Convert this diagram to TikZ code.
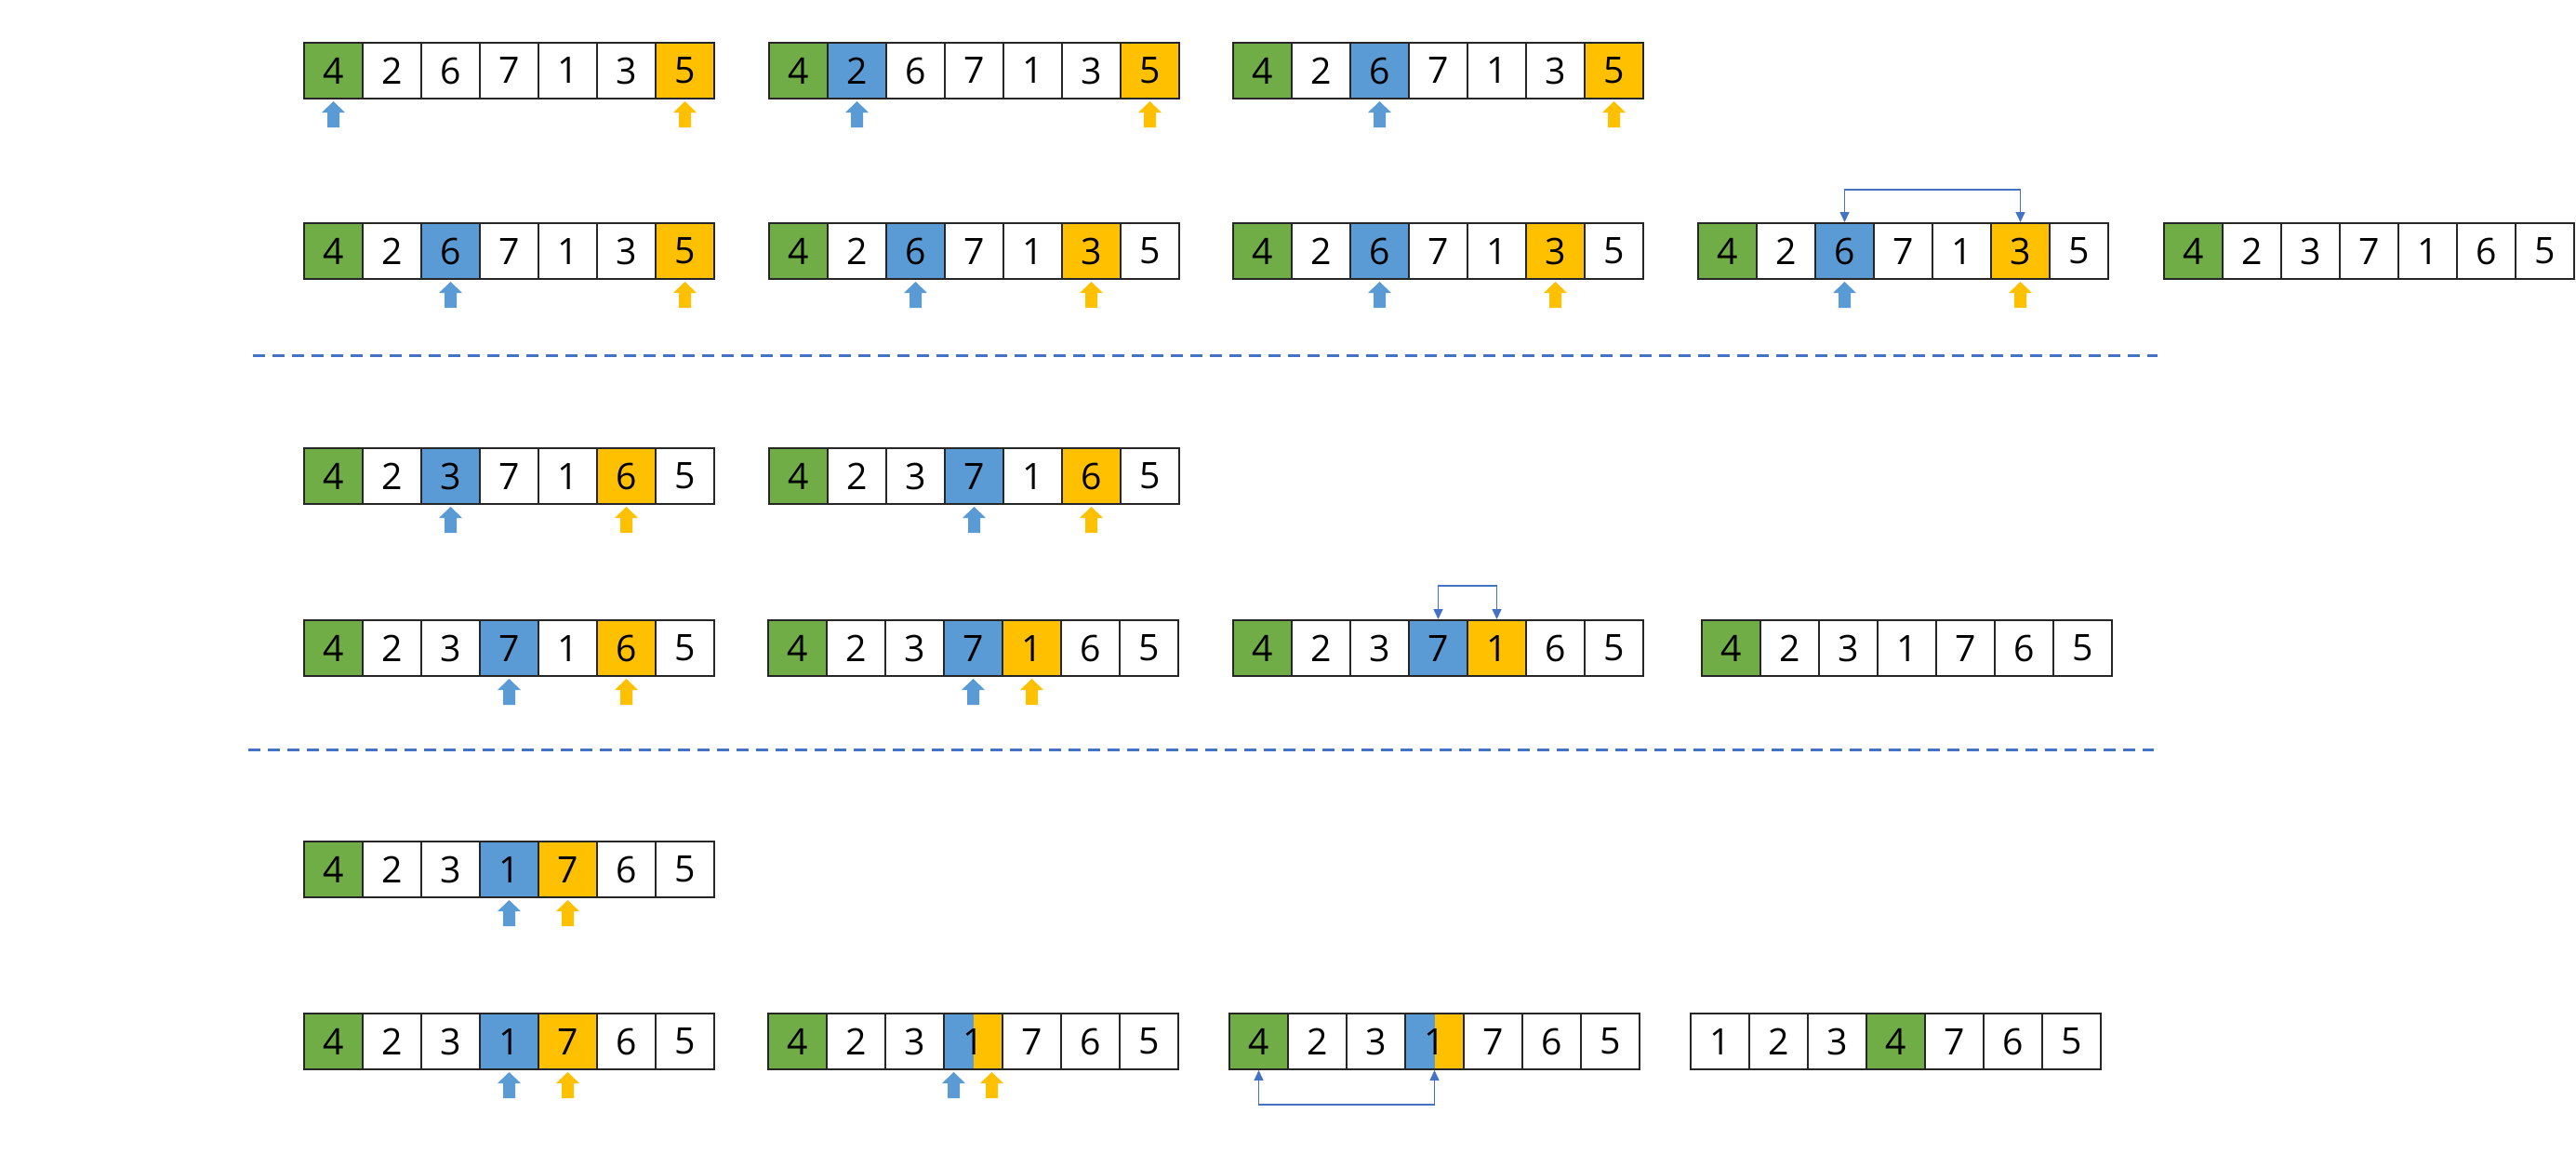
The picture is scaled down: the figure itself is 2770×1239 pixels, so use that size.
\documentclass[tikz,border=0pt]{standalone}
\usepackage{fontspec}
\setmainfont{Open Sans}
\usetikzlibrary{arrows.meta}
\definecolor{cgreen}{HTML}{70AD47}
\definecolor{cblue}{HTML}{5B9BD5}
\definecolor{corange}{HTML}{FFC000}
\definecolor{cline}{HTML}{4472C4}
\definecolor{cborder}{HTML}{262626}
\tikzset{
  cellbox/.style={draw=cborder, line width=1pt, minimum width=31.5pt, minimum height=30pt,
    inner sep=0pt, font=\fontsize{19.6}{23}\selectfont, text=black},
  fw/.style={fill=white},
  fg/.style={fill=cgreen},
  fb/.style={fill=cblue},
  fo/.style={fill=corange},
  fs/.style={fill=corange, path picture={\fill[cblue] (path picture bounding box.south west) rectangle (path picture bounding box.north);}},
  cellfill/.code={\edef\cellstyletmp{#1}\expandafter\pgfkeysalso\expandafter{\cellstyletmp}},
  conn/.style={draw=cline, line width=0.75pt, {Triangle[width=5pt,length=5.5pt]}-{Triangle[width=5pt,length=5.5pt]}},
  sep/.style={draw=cline, line width=1.5pt, dash pattern=on 6.5pt off 4pt}
}
\newcommand\cellrow[4]{%
  \foreach \v/\f [count=\i from 0] in {#4} {
    \node[cellbox, cellfill=\f] (#1-\i) at ({#2+31.5+63*\i},{#3+30}) {\v};
  }%
}
\newcommand\blockup[3]{%
  \fill[#1] ([xshift={(#3)*0.5pt}, yshift=-1pt]#2.south) -- ++(12.5,12) -- ++(-6,0) -- ++(0,16) -- ++(-13,0) -- ++(0,-16) -- ++(-6,0) -- cycle;%
}
\begin{document}
\begin{tikzpicture}[x=0.5pt, y=-0.5pt]
\useasboundingbox (0,0) rectangle (2770,1239);
% Row 1
\cellrow{a1}{327}{46}{4/fg,2/fw,6/fw,7/fw,1/fw,3/fw,5/fo}
\blockup{cblue}{a1-0}{0} \blockup{corange}{a1-6}{0}
\cellrow{a2}{827}{46}{4/fg,2/fb,6/fw,7/fw,1/fw,3/fw,5/fo}
\blockup{cblue}{a2-1}{0} \blockup{corange}{a2-6}{0}
\cellrow{a3}{1326}{46}{4/fg,2/fw,6/fb,7/fw,1/fw,3/fw,5/fo}
\blockup{cblue}{a3-2}{0} \blockup{corange}{a3-6}{0}
% Row 2
\cellrow{b1}{327}{240}{4/fg,2/fw,6/fb,7/fw,1/fw,3/fw,5/fo}
\blockup{cblue}{b1-2}{0} \blockup{corange}{b1-6}{0}
\cellrow{b2}{827}{240}{4/fg,2/fw,6/fb,7/fw,1/fw,3/fo,5/fw}
\blockup{cblue}{b2-2}{0} \blockup{corange}{b2-5}{0}
\cellrow{b3}{1326}{240}{4/fg,2/fw,6/fb,7/fw,1/fw,3/fo,5/fw}
\blockup{cblue}{b3-2}{0} \blockup{corange}{b3-5}{0}
\cellrow{b4}{1826}{240}{4/fg,2/fw,6/fb,7/fw,1/fw,3/fo,5/fw}
\blockup{cblue}{b4-2}{0} \blockup{corange}{b4-5}{0}
\draw[conn] (b4-2.north) -- ++(0,-35) -| (b4-5.north);
\cellrow{b5}{2327}{240}{4/fg,2/fw,3/fw,7/fw,1/fw,6/fw,5/fw}
% separator 1
\coordinate (s1a) at (272,382); \coordinate (s1b) at (2320,382);
\draw[sep] (s1a) -- (s1b);
% Row 3
\cellrow{c1}{327}{482}{4/fg,2/fw,3/fb,7/fw,1/fw,6/fo,5/fw}
\blockup{cblue}{c1-2}{0} \blockup{corange}{c1-5}{0}
\cellrow{c2}{827}{482}{4/fg,2/fw,3/fw,7/fb,1/fw,6/fo,5/fw}
\blockup{cblue}{c2-3}{0} \blockup{corange}{c2-5}{0}
% Row 4
\cellrow{d1}{327}{667}{4/fg,2/fw,3/fw,7/fb,1/fw,6/fo,5/fw}
\blockup{cblue}{d1-3}{0} \blockup{corange}{d1-5}{0}
\cellrow{d2}{826}{667}{4/fg,2/fw,3/fw,7/fb,1/fo,6/fw,5/fw}
\blockup{cblue}{d2-3}{0} \blockup{corange}{d2-4}{0}
\cellrow{d3}{1326}{667}{4/fg,2/fw,3/fw,7/fb,1/fo,6/fw,5/fw}
\draw[conn] (d3-3.north) -- ++(0,-36) -| (d3-4.north);
\cellrow{d4}{1830}{667}{4/fg,2/fw,3/fw,1/fw,7/fw,6/fw,5/fw}
% separator 2
\coordinate (s2a) at (267,806); \coordinate (s2b) at (2316,806);
\draw[sep] (s2a) -- (s2b);
% Row 5
\cellrow{e1}{327}{905}{4/fg,2/fw,3/fw,1/fb,7/fo,6/fw,5/fw}
\blockup{cblue}{e1-3}{0} \blockup{corange}{e1-4}{0}
% Row 6
\cellrow{f1}{327}{1090}{4/fg,2/fw,3/fw,1/fb,7/fo,6/fw,5/fw}
\blockup{cblue}{f1-3}{0} \blockup{corange}{f1-4}{0}
\cellrow{f2}{826}{1090}{4/fg,2/fw,3/fw,1/fs,7/fw,6/fw,5/fw}
\blockup{cblue}{f2-3}{-21} \blockup{corange}{f2-3}{20}
\cellrow{f3}{1322}{1090}{4/fg,2/fw,3/fw,1/fs,7/fw,6/fw,5/fw}
\draw[conn] (f3-0.south) -- ++(0,37) -| (f3-3.south);
\cellrow{f4}{1818}{1090}{1/fw,2/fw,3/fw,4/fg,7/fw,6/fw,5/fw}
\end{tikzpicture}
\end{document}
